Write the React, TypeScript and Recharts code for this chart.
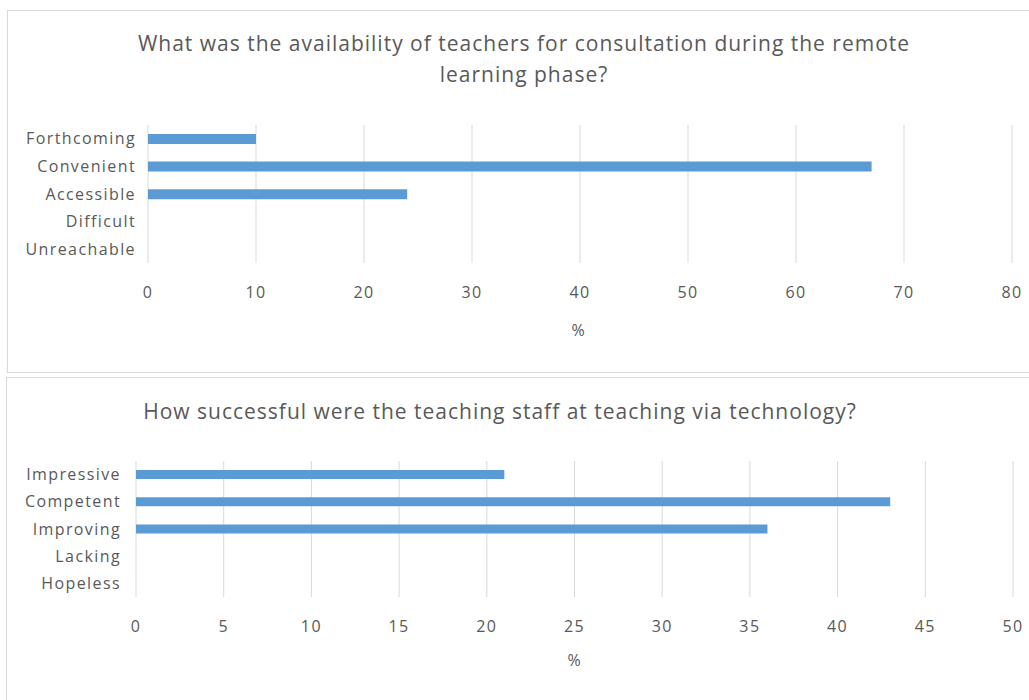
import React from "react";
import { BarChart, Bar, XAxis, YAxis, CartesianGrid } from "recharts";

// top chart: availability of teachers
const availabilityCategories = ["Forthcoming", "Convenient", "Accessible", "Difficult", "Unreachable"];
const availabilityValues = [10, 67, 24, 0, 0];
const availabilityTicks = [0, 10, 20, 30, 40, 50, 60, 70, 80];

// bottom chart: teaching via technology
const successCategories = ["Impressive", "Competent", "Improving", "Lacking", "Hopeless"];
const successValues = [21, 43, 36, 0, 0];
const successTicks = [0, 5, 10, 15, 20, 25, 30, 35, 40, 45, 50];

const BAR_COLOR = "#5b9bd5";
const TEXT_COLOR = "#595959";
const GRID_COLOR = "#d9d9d9";
const FONT = "'Open Sans', 'Liberation Sans', sans-serif";

const availabilityData = availabilityCategories.map((name, i) => ({
  name,
  value: availabilityValues[i],
}));
const successData = successCategories.map((name, i) => ({
  name,
  value: successValues[i],
}));

const tickStyle = { fill: TEXT_COLOR, fontSize: 16, fontFamily: FONT, letterSpacing: 1.4 };

const boxStyle: React.CSSProperties = {
  position: "absolute",
  border: `1px solid ${GRID_COLOR}`,
  background: "#fff",
};

const titleStyle: React.CSSProperties = {
  position: "absolute",
  textAlign: "center",
  color: TEXT_COLOR,
  fontFamily: FONT,
  fontSize: 21,
  letterSpacing: 1,
  lineHeight: "31px",
};

const unitStyle: React.CSSProperties = {
  position: "absolute",
  textAlign: "center",
  color: TEXT_COLOR,
  fontFamily: FONT,
  fontSize: 16,
  lineHeight: "20px",
  width: 40,
};

export default function App() {
  return (
    <div
      style={{
        position: "absolute",
        left: 0,
        top: 0,
        width: 1029,
        height: 700,
        overflow: "hidden",
        background: "#fff",
      }}
    >
      <div style={{ ...boxStyle, left: 7, top: 10, width: 1040, height: 361 }} />
      <div style={{ ...boxStyle, left: 6, top: 377, width: 1040, height: 340 }} />

      <div style={{ ...titleStyle, left: 0, top: 28, width: 1048 }}>
        What was the availability of teachers for consultation during the remote
        <br />
        learning phase?
      </div>
      <div style={{ position: "absolute", left: 0, top: 0 }}>
        <BarChart
          width={1029}
          height={372}
          layout="vertical"
          data={availabilityData}
          margin={{ top: 125, right: 17, bottom: 79, left: 0 }}
          barSize={10}
        >
          <CartesianGrid horizontal={false} stroke={GRID_COLOR} />
          <XAxis
            type="number"
            domain={[0, 80]}
            ticks={availabilityTicks}
            axisLine={false}
            tickLine={false}
            tickSize={0}
            tickMargin={24}
            height={30}
            tick={tickStyle}
            interval={0}
          />
          <YAxis
            type="category"
            dataKey="name"
            width={148}
            axisLine={false}
            tickLine={false}
            tickSize={0}
            tickMargin={12}
            tick={tickStyle}
            interval={0}
          />
          <Bar dataKey="value" fill={BAR_COLOR} isAnimationActive={false} />
        </BarChart>
      </div>
      <div style={{ ...unitStyle, left: 558, top: 320 }}>%</div>

      <div style={{ ...titleStyle, left: 0, top: 396, width: 1000 }}>
        How successful were the teaching staff at teaching via technology?
      </div>
      <div style={{ position: "absolute", left: 0, top: 377 }}>
        <BarChart
          width={1029}
          height={323}
          layout="vertical"
          data={successData}
          margin={{ top: 84, right: 16, bottom: 73, left: 0 }}
          barSize={9}
        >
          <CartesianGrid horizontal={false} stroke={GRID_COLOR} />
          <XAxis
            type="number"
            domain={[0, 50]}
            ticks={successTicks}
            axisLine={false}
            tickLine={false}
            tickSize={0}
            tickMargin={24}
            height={30}
            tick={tickStyle}
            interval={0}
          />
          <YAxis
            type="category"
            dataKey="name"
            width={136}
            axisLine={false}
            tickLine={false}
            tickSize={0}
            tickMargin={15}
            tick={tickStyle}
            interval={0}
          />
          <Bar dataKey="value" fill={BAR_COLOR} isAnimationActive={false} />
        </BarChart>
      </div>
      <div style={{ ...unitStyle, left: 554, top: 650 }}>%</div>
    </div>
  );
}
